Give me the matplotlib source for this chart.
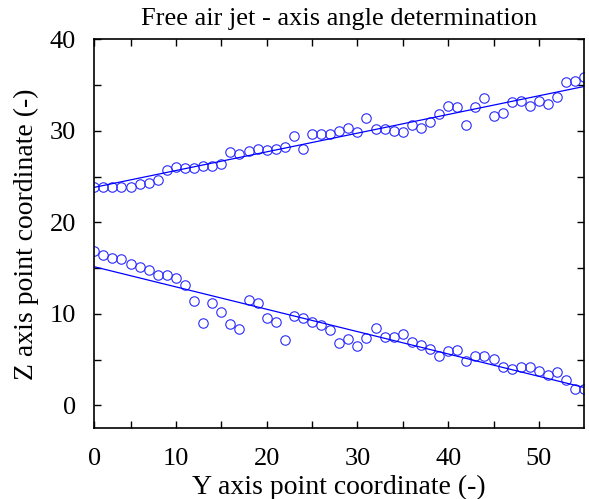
import numpy as np
import matplotlib
matplotlib.use("Agg")
import matplotlib.pyplot as plt
from matplotlib.ticker import FixedLocator

# ---- data ----
point_index = list(range(1, 56))
upper_z = [23.9, 23.9, 23.9, 23.9, 23.9, 24.2, 24.3, 24.6, 25.7, 26.0,
           25.9, 25.9, 26.2, 26.2, 26.4, 27.7, 27.5, 27.8, 28.05, 27.9,
           28.05, 28.2, 29.4, 28.05, 29.7, 29.7, 29.6, 30.0, 30.3, 29.9,
           31.4, 30.2, 30.2, 30.0, 29.9, 30.6, 30.3, 31.0, 31.8, 32.75,
           32.6, 30.6, 32.6, 33.6, 31.6, 31.9, 33.1, 33.3, 32.75, 33.3,
           32.9, 33.7, 35.3, 35.4, 35.85]
lower_z = [16.9, 16.4, 16.1, 15.97, 15.45, 15.1, 14.8, 14.25, 14.25, 13.96,
           13.2, 11.4, 9.0, 11.2, 10.25, 8.9, 8.4, 11.5, 11.2, 9.6,
           9.15, 7.15, 9.8, 9.5, 9.1, 8.75, 8.2, 6.8, 7.3, 6.5,
           7.4, 8.5, 7.45, 7.45, 7.8, 6.9, 6.6, 6.2, 5.45, 5.9,
           6.05, 4.8, 5.45, 5.45, 5.05, 4.25, 3.95, 4.2, 4.25, 3.8,
           3.35, 3.6, 2.8, 1.8, 1.8]
x_tick_pos = [1, 10, 20, 30, 40, 50]
x_tick_labels = ["0", "10", "20", "30", "40", "50"]
y_ticks = [0, 10, 20, 30, 40]

plt.rcParams['font.family'] = ['Liberation Serif', 'DejaVu Serif']

fig = plt.figure(figsize=(5.89, 4.99), dpi=100)
ax = fig.add_axes([0.160, 0.1417, 0.832, 0.7796])

blue = '#0000ff'
x = np.array(point_index, dtype=float)
for series in (upper_z, lower_z):
    y = np.array(series)
    ax.plot(x, y, linestyle='none', marker='o', markersize=6.8,
            markerfacecolor='none', markeredgecolor='#2a2aff',
            markeredgewidth=0.8, clip_on=True)
    k, b = np.polyfit(x, y, 1)
    ax.plot(x, k * x + b, color=blue, linewidth=0.9)

ax.set_xlim(1, 55)
ax.set_ylim(-2.5, 40)
ax.set_xticks(x_tick_pos)
ax.set_xticklabels(x_tick_labels)
ax.xaxis.set_minor_locator(FixedLocator([5, 15, 25, 35, 45]))
ax.set_yticks(y_ticks)
ax.yaxis.set_minor_locator(FixedLocator([5, 15, 25, 35]))
ax.tick_params(which='both', direction='in', length=5, width=1,
               top=True, right=True, labelsize=19)
ax.tick_params(axis='x', pad=14)
ax.tick_params(axis='y', pad=13)
for s in ax.spines.values():
    s.set_linewidth(1.2)

ax.set_title("Free air jet - axis angle determination", fontsize=19, pad=10)
ax.set_xlabel("Y axis point coordinate (-)", fontsize=20, labelpad=4)
ax.set_ylabel("Z axis point coordinate (-)", fontsize=20, labelpad=8)

fig.savefig("out.png", dpi=100)
